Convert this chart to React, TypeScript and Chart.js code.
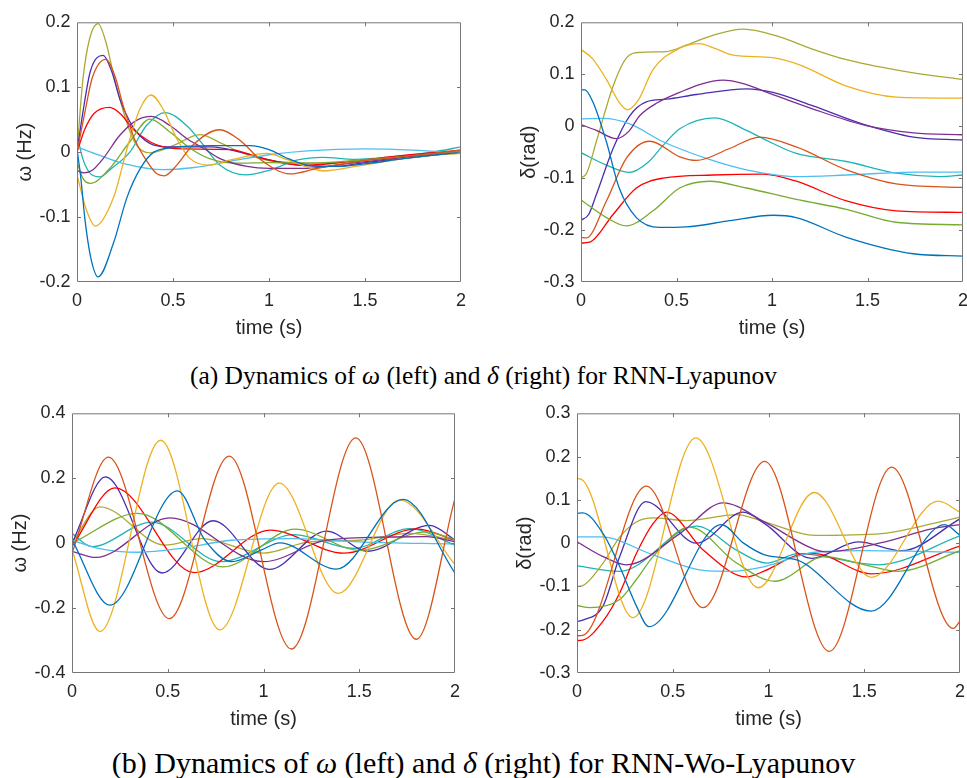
import React, { useEffect, useRef } from 'react';
import { Chart, registerables } from 'chart.js';

Chart.register(...registerables);

type Pt = [number, number];

// ---------------- axis ticks ----------------
const TIME_TICKS = [0, 0.5, 1, 1.5, 2];
const TIME_LABELS = ['0', '0.5', '1', '1.5', '2'];
const OMEGA_A_TICKS = [-0.2, -0.1, 0, 0.1, 0.2];
const OMEGA_A_LABELS = ['-0.2', '-0.1', '0', '0.1', '0.2'];
const DELTA_B_TICKS = [-0.3, -0.2, -0.1, 0, 0.1, 0.2];
const DELTA_B_LABELS = ['-0.3', '-0.2', '-0.1', '0', '0.1', '0.2'];
const OMEGA_C_TICKS = [-0.4, -0.2, 0, 0.2, 0.4];
const OMEGA_C_LABELS = ['-0.4', '-0.2', '0', '0.2', '0.4'];
const DELTA_D_TICKS = [-0.3, -0.2, -0.1, 0, 0.1, 0.2, 0.3];
const DELTA_D_LABELS = ['-0.3', '-0.2', '-0.1', '0', '0.1', '0.2', '0.3'];

// ---------------- colours ----------------
const BLUE = '#0072BD';
const ORANGE = '#D95319';
const YELLOW = '#EDB120';
const PURPLE = '#7E2F8E';
const GREEN = '#77AC30';
const LIGHTBLUE = '#4DBEEE';
const RED = '#FF0000';
const INDIGO = '#4A2DB0';
const OLIVE = '#AAAA33';
const TEAL = '#1FB4B4';

// ---------------- (a) left: omega, RNN-Lyapunov ----------------
const A_blue: Pt[] = [[0, 0.005], [0.02, -0.04], [0.04, -0.1], [0.07, -0.16], [0.11, -0.192], [0.19, -0.14], [0.26, -0.07], [0.33, -0.025], [0.4, 0.0], [0.5, 0.007], [0.7, 0.01], [0.9, 0.01], [1.0, 0.004], [1.1, -0.01], [1.2, -0.02], [1.35, -0.022], [1.5, -0.018], [1.7, -0.01], [2, 0.0]];
const A_olive: Pt[] = [[0, 0.0], [0.03, 0.11], [0.066, 0.175], [0.11, 0.198], [0.15, 0.17], [0.19, 0.12], [0.26, 0.045], [0.31, 0.011], [0.38, -0.001], [0.5, 0.01], [0.64, 0.027], [0.75, 0.014], [0.85, 0.0], [1.02, -0.014], [1.3, -0.017], [1.5, -0.012], [1.7, -0.007], [2, -0.002]];
const A_indigo: Pt[] = [[0, 0.0], [0.03, 0.06], [0.07, 0.125], [0.136, 0.149], [0.18, 0.125], [0.223, 0.082], [0.27, 0.05], [0.31, 0.031], [0.4, 0.011], [0.5, 0.008], [0.7, 0.008], [0.85, 0.0], [1.0, -0.012], [1.15, -0.02], [1.35, -0.022], [1.5, -0.016], [1.75, -0.008], [2, 0.0]];
const A_orange: Pt[] = [[0, 0.0], [0.04, 0.06], [0.08, 0.115], [0.15, 0.143], [0.2, 0.115], [0.24, 0.072], [0.3, 0.02], [0.36, -0.012], [0.414, -0.033], [0.454, -0.0365], [0.52, -0.02], [0.6, 0.01], [0.742, 0.0345], [0.85, 0.018], [0.95, -0.01], [1.11, -0.0335], [1.25, -0.025], [1.45, -0.015], [1.7, -0.007], [2, 0.003]];
const A_red: Pt[] = [[0, 0.0], [0.04, 0.035], [0.09, 0.06], [0.17, 0.069], [0.23, 0.058], [0.29, 0.036], [0.38, 0.016], [0.45, 0.008], [0.55, 0.005], [0.8, 0.004], [0.95, -0.008], [1.1, -0.018], [1.2, -0.02], [1.4, -0.015], [1.7, -0.005], [2, 0.003]];
const A_yellow: Pt[] = [[0, -0.035], [0.05, -0.09], [0.095, -0.114], [0.19, -0.07], [0.266, 0.011], [0.327, 0.066], [0.385, 0.088], [0.449, 0.066], [0.519, 0.021], [0.589, -0.01], [0.69, -0.02], [0.8, -0.012], [0.99, -0.002], [1.1, -0.012], [1.285, -0.029], [1.45, -0.022], [1.7, -0.01], [2, 0.0]];
const A_purple: Pt[] = [[0, -0.028], [0.035, -0.032], [0.08, -0.028], [0.136, -0.01], [0.223, 0.026], [0.31, 0.049], [0.388, 0.055], [0.484, 0.041], [0.571, 0.021], [0.658, 0.006], [0.745, -0.01], [0.885, -0.022], [1.0, -0.025], [1.2, -0.025], [1.4, -0.018], [1.7, -0.008], [2, 0.0]];
const A_green: Pt[] = [[0, -0.015], [0.03, -0.04], [0.07, -0.048], [0.17, -0.025], [0.275, 0.016], [0.38, 0.051], [0.484, 0.031], [0.589, 0.006], [0.69, -0.01], [0.83, -0.017], [1.0, -0.016], [1.2, -0.017], [1.4, -0.014], [1.7, -0.007], [2, 0.002]];
const A_teal: Pt[] = [[0, 0.028], [0.03, -0.01], [0.07, -0.033], [0.118, -0.038], [0.18, -0.025], [0.275, 0.0], [0.362, 0.041], [0.458, 0.061], [0.571, 0.041], [0.658, 0.011], [0.745, -0.02], [0.88, -0.035], [1.0, -0.028], [1.15, -0.012], [1.28, -0.008], [1.45, -0.011], [1.65, -0.007], [1.85, 0.0], [2, 0.008]];
const A_lightblue: Pt[] = [[0, 0.008], [0.1, -0.003], [0.25, -0.018], [0.45, -0.027], [0.6, -0.024], [0.8, -0.014], [1.0, -0.004], [1.2, 0.002], [1.5, 0.005], [1.75, 0.003], [2, -0.002]];

// ---------------- (a) right: delta, RNN-Lyapunov ----------------
const B_olive: Pt[] = [[0, -0.1], [0.03, -0.09], [0.08, -0.03], [0.168, 0.077], [0.237, 0.131], [0.307, 0.142], [0.447, 0.1437], [0.55, 0.156], [0.69, 0.175], [0.85, 0.187], [1.04, 0.172], [1.2, 0.15], [1.39, 0.128], [1.74, 0.1025], [2, 0.09]];
const B_yellow: Pt[] = [[0, 0.148], [0.06, 0.13], [0.133, 0.09], [0.2, 0.046], [0.243, 0.0316], [0.3, 0.05], [0.377, 0.109], [0.517, 0.15], [0.62, 0.159], [0.7, 0.15], [0.796, 0.137], [1.005, 0.132], [1.145, 0.118], [1.39, 0.077], [1.65, 0.056], [2, 0.054]];
const B_purple: Pt[] = [[0, 0.003], [0.08, -0.008], [0.185, -0.024], [0.25, -0.01], [0.307, 0.02], [0.4, 0.045], [0.517, 0.065], [0.62, 0.08], [0.743, 0.0886], [0.85, 0.082], [0.953, 0.068], [1.215, 0.033], [1.494, 0.001], [1.74, -0.0127], [2, -0.0165]];
const B_indigo: Pt[] = [[0, -0.181], [0.04, -0.17], [0.08, -0.132], [0.168, -0.043], [0.255, 0.02], [0.342, 0.047], [0.447, 0.052], [0.604, 0.061], [0.866, 0.072], [1.005, 0.065], [1.215, 0.039], [1.476, 0.004], [1.74, -0.021], [2, -0.0266]];
const B_blue: Pt[] = [[0, 0.0696], [0.02, 0.07], [0.063, 0.046], [0.133, -0.03], [0.2, -0.119], [0.29, -0.176], [0.41, -0.195], [0.55, -0.194], [0.778, -0.182], [1.005, -0.1715], [1.127, -0.176], [1.39, -0.214], [1.74, -0.2456], [2, -0.25]];
const B_lightblue: Pt[] = [[0, 0.014], [0.115, 0.015], [0.255, 0.0044], [0.43, -0.03], [0.656, -0.062], [0.866, -0.084], [1.127, -0.097], [1.39, -0.094], [1.74, -0.0886], [2, -0.0886]];
const B_teal: Pt[] = [[0, -0.051], [0.133, -0.075], [0.255, -0.089], [0.35, -0.07], [0.43, -0.037], [0.517, -0.005], [0.7, 0.016], [0.866, -0.008], [0.953, -0.024], [1.127, -0.0525], [1.39, -0.068], [1.65, -0.0905], [1.878, -0.097], [2, -0.094]];
const B_orange: Pt[] = [[0, -0.214], [0.028, -0.215], [0.133, -0.144], [0.237, -0.062], [0.36, -0.029], [0.517, -0.059], [0.604, -0.066], [0.778, -0.043], [0.935, -0.021], [1.127, -0.04], [1.39, -0.084], [1.65, -0.111], [2, -0.118]];
const B_red: Pt[] = [[0, -0.225], [0.045, -0.2234], [0.168, -0.17], [0.29, -0.119], [0.43, -0.1], [0.69, -0.094], [0.953, -0.0924], [1.127, -0.106], [1.39, -0.144], [1.65, -0.163], [2, -0.166]];
const B_green: Pt[] = [[0, -0.142], [0.133, -0.176], [0.237, -0.192], [0.377, -0.163], [0.517, -0.119], [0.674, -0.106], [0.866, -0.119], [1.127, -0.141], [1.39, -0.16], [1.65, -0.185], [2, -0.19]];

// ---------------- (b) left: omega, RNN-Wo-Lyapunov ----------------
const C_orange: Pt[] = [[0, -0.03], [0.19, 0.265], [0.508, -0.2325], [0.821, 0.268], [1.146, -0.326], [1.482, 0.324], [1.798, -0.296], [2, 0.138]];
const C_yellow: Pt[] = [[0, -0.02], [0.146, -0.272], [0.463, 0.317], [0.772, -0.267], [1.082, 0.185], [1.39, -0.155], [1.711, 0.133], [2, -0.066]];
const C_blue: Pt[] = [[0, 0.01], [0.198, -0.191], [0.551, 0.161], [0.694, 0.009], [0.833, -0.057], [0.99, -0.021], [1.085, 0.001], [1.38, -0.08], [1.729, 0.135], [2, -0.092]];
const C_indigo: Pt[] = [[0, 0.0], [0.175, 0.204], [0.47, -0.092], [0.737, 0.069], [1.03, -0.081], [1.329, 0.037], [1.545, -0.025], [1.868, 0.055], [2, 0.01]];
const C_red: Pt[] = [[0, -0.01], [0.224, 0.17], [0.638, -0.091], [1.035, 0.04], [1.42, -0.031], [1.8, 0.044], [2, 0.009]];
const C_olive: Pt[] = [[0, 0.0], [0.146, 0.112], [0.485, -0.006], [0.677, 0.014], [1.0, -0.031], [1.24, 0.004], [1.5, 0.009], [1.763, 0.03], [2, 0.009]];
const C_green: Pt[] = [[0, 0.0], [0.343, 0.092], [0.79, -0.073], [1.165, 0.043], [1.503, -0.022], [1.85, 0.035], [2, 0.01]];
const C_teal: Pt[] = [[0, 0.03], [0.103, -0.011], [0.416, 0.065], [0.781, -0.057], [1.16, 0.026], [1.47, -0.016], [1.763, 0.045], [2, -0.006]];
const C_purple: Pt[] = [[0, -0.025], [0.125, -0.044], [0.511, 0.078], [1.0, -0.057], [1.329, 0.009], [1.677, 0.019], [1.85, 0.02], [2, 0.004]];
const C_lightblue: Pt[] = [[0, 0.009], [0.137, -0.016], [0.346, -0.028], [0.572, -0.016], [0.833, 0.009], [1.155, 0.014], [1.5, 0.004], [2, -0.003]];

// ---------------- (b) right: delta, RNN-Wo-Lyapunov ----------------
const D_orange: Pt[] = [[0, -0.214], [0.03, -0.213], [0.362, 0.1316], [0.659, -0.149], [0.98, 0.189], [1.317, -0.25], [1.643, 0.1757], [1.965, -0.197], [2, -0.18]];
const D_yellow: Pt[] = [[0, 0.149], [0.02, 0.148], [0.293, -0.172], [0.62, 0.243], [0.946, -0.103], [1.239, 0.117], [1.538, -0.079], [1.887, 0.097], [2, 0.0715]];
const D_blue: Pt[] = [[0, 0.069], [0.03, 0.07], [0.136, 0.022], [0.223, -0.054], [0.31, -0.145], [0.375, -0.193], [0.754, 0.043], [0.87, 0.0], [0.98, -0.027], [1.155, -0.04], [1.535, -0.157], [1.92, 0.043], [2, 0.018]];
const D_indigo: Pt[] = [[0, -0.181], [0.03, -0.178], [0.136, -0.145], [0.223, -0.031], [0.359, 0.096], [0.624, 0.0], [0.868, 0.0715], [0.98, 0.045], [1.225, -0.035], [1.469, 0.003], [1.695, -0.0175], [2, 0.056]];
const D_purple: Pt[] = [[0, 0.003], [0.136, -0.031], [0.258, -0.05], [0.537, 0.022], [0.763, 0.093], [0.98, 0.049], [1.207, -0.008], [1.294, -0.02], [1.59, 0.001], [1.852, 0.033], [2, 0.043]];
const D_olive: Pt[] = [[0, -0.1], [0.03, -0.098], [0.136, -0.046], [0.223, 0.014], [0.31, 0.049], [0.397, 0.0585], [0.571, 0.052], [0.833, 0.066], [0.98, 0.049], [1.242, 0.018], [1.59, 0.022], [1.767, 0.036], [2, 0.06]];
const D_teal: Pt[] = [[0, -0.0525], [0.223, -0.065], [0.624, 0.0395], [0.833, -0.016], [0.99, -0.046], [1.155, -0.024], [1.573, -0.05], [2, 0.017]];
const D_lightblue: Pt[] = [[0, 0.0145], [0.125, 0.0145], [0.397, -0.027], [0.659, -0.063], [0.8, -0.065], [0.98, -0.054], [1.242, -0.021], [1.503, -0.0175], [2, -0.021]];
const D_red: Pt[] = [[0, -0.225], [0.03, -0.224], [0.136, -0.18], [0.223, -0.115], [0.31, -0.024], [0.397, 0.045], [0.467, 0.0715], [0.659, -0.016], [0.885, -0.078], [0.98, -0.064], [1.155, -0.027], [1.24, -0.024], [1.538, -0.071], [2, -0.007]];
const D_green: Pt[] = [[0, -0.144], [0.066, -0.149], [0.223, -0.13], [0.31, -0.084], [0.397, -0.031], [0.589, 0.037], [0.833, -0.046], [1.033, -0.088], [1.294, -0.031], [1.503, -0.05], [1.678, -0.065], [2, -0.0175]];

// ---------------- series lists ----------------
type Series = { color: string; data: Pt[] };
const A_SERIES: Series[] = [
  { color: BLUE, data: A_blue }, { color: ORANGE, data: A_orange }, { color: YELLOW, data: A_yellow },
  { color: PURPLE, data: A_purple }, { color: GREEN, data: A_green }, { color: LIGHTBLUE, data: A_lightblue },
  { color: RED, data: A_red }, { color: INDIGO, data: A_indigo }, { color: OLIVE, data: A_olive }, { color: TEAL, data: A_teal },
];
const B_SERIES: Series[] = [
  { color: BLUE, data: B_blue }, { color: ORANGE, data: B_orange }, { color: YELLOW, data: B_yellow },
  { color: PURPLE, data: B_purple }, { color: GREEN, data: B_green }, { color: LIGHTBLUE, data: B_lightblue },
  { color: RED, data: B_red }, { color: INDIGO, data: B_indigo }, { color: OLIVE, data: B_olive }, { color: TEAL, data: B_teal },
];
const C_SERIES: Series[] = [
  { color: BLUE, data: C_blue }, { color: ORANGE, data: C_orange }, { color: YELLOW, data: C_yellow },
  { color: PURPLE, data: C_purple }, { color: GREEN, data: C_green }, { color: LIGHTBLUE, data: C_lightblue },
  { color: RED, data: C_red }, { color: INDIGO, data: C_indigo }, { color: OLIVE, data: C_olive }, { color: TEAL, data: C_teal },
];
const D_SERIES: Series[] = [
  { color: BLUE, data: D_blue }, { color: ORANGE, data: D_orange }, { color: YELLOW, data: D_yellow },
  { color: PURPLE, data: D_purple }, { color: GREEN, data: D_green }, { color: LIGHTBLUE, data: D_lightblue },
  { color: RED, data: D_red }, { color: INDIGO, data: D_indigo }, { color: OLIVE, data: D_olive }, { color: TEAL, data: D_teal },
];

// ---------------- layout / style ----------------
const Y_AXIS_W = 77;
const X_AXIS_H = 62;
const PAD_TOP = 14;
const PAD_RIGHT = 14;
const FRAME_COLOR = '#767676';
const TEXT_COLOR = '#262626';
const SANS = '"Liberation Sans", Arial, Helvetica, sans-serif';
const SERIF = '"Liberation Serif", "Times New Roman", Times, serif';
const TICK_FONT = 18;
const TITLE_FONT = 20;
const TICK_LEN = 4;

const framePlugin = {
  id: 'matlabFrame',
  afterDraw(chart: any) {
    const { ctx, chartArea } = chart;
    const { left, right, top, bottom } = chartArea;
    const xs = chart.scales.x;
    const ys = chart.scales.y;
    ctx.save();
    ctx.strokeStyle = FRAME_COLOR;
    ctx.lineWidth = 1;
    ctx.beginPath();
    ctx.rect(left + 0.5, top + 0.5, right - left - 1, bottom - top - 1);
    for (const t of xs.ticks) {
      const px = Math.round(xs.getPixelForValue(t.value)) + 0.5;
      if (px <= left + 2 || px >= right - 2) continue;
      ctx.moveTo(px, bottom); ctx.lineTo(px, bottom - TICK_LEN);
      ctx.moveTo(px, top); ctx.lineTo(px, top + TICK_LEN);
    }
    for (const t of ys.ticks) {
      const py = Math.round(ys.getPixelForValue(t.value)) + 0.5;
      if (py <= top + 2 || py >= bottom - 2) continue;
      ctx.moveTo(left, py); ctx.lineTo(left + TICK_LEN, py);
      ctx.moveTo(right, py); ctx.lineTo(right - TICK_LEN, py);
    }
    ctx.stroke();
    ctx.restore();
  },
};

type Area = { left: number; top: number; right: number; bottom: number };

function Panel(props: {
  area: Area; yMin: number; yMax: number; yTicks: number[]; yLabels: string[]; yTitle: string; series: Series[];
}) {
  const { area, yMin, yMax, yTicks, yLabels, yTitle, series } = props;
  const ref = useRef<HTMLCanvasElement | null>(null);
  const W = area.right - area.left + Y_AXIS_W + PAD_RIGHT;
  const H = area.bottom - area.top + PAD_TOP + X_AXIS_H;

  useEffect(() => {
    if (!ref.current) return;
    const chart = new Chart(ref.current, {
      type: 'line',
      data: {
        datasets: series.map((s) => ({
          data: s.data.map((p) => ({ x: p[0], y: p[1] })),
          borderColor: s.color,
          backgroundColor: s.color,
          borderWidth: 1.3,
          pointRadius: 0,
          fill: false,
          cubicInterpolationMode: 'monotone' as const,
        })),
      },
      options: {
        animation: false,
        responsive: false,
        devicePixelRatio: 1,
        layout: { padding: { top: PAD_TOP, right: PAD_RIGHT, left: 0, bottom: 0 } },
        plugins: { legend: { display: false }, tooltip: { enabled: false } },
        events: [],
        scales: {
          x: {
            type: 'linear',
            min: 0,
            max: 2,
            afterBuildTicks: (s: any) => { s.ticks = TIME_TICKS.map((v) => ({ value: v })); },
            afterFit: (s: any) => { s.height = X_AXIS_H; },
            grid: { display: false, drawTicks: false },
            border: { display: false },
            ticks: {
              autoSkip: false, maxRotation: 0, minRotation: 0, padding: 8.5, color: TEXT_COLOR,
              font: { family: SANS, size: TICK_FONT },
              callback: (_v: any, i: number) => TIME_LABELS[i],
            },
            title: {
              display: true, text: 'time (s)', color: TEXT_COLOR,
              font: { family: SANS, size: TITLE_FONT }, padding: { top: 0, bottom: 4 },
            },
          },
          y: {
            type: 'linear',
            min: yMin,
            max: yMax,
            afterBuildTicks: (s: any) => { s.ticks = yTicks.map((v) => ({ value: v })); },
            afterFit: (s: any) => { s.width = Y_AXIS_W; },
            grid: { display: false, drawTicks: false },
            border: { display: false },
            ticks: {
              autoSkip: false, padding: 6.5, color: TEXT_COLOR,
              font: { family: SANS, size: TICK_FONT },
              callback: (_v: any, i: number) => yLabels[i],
            },
            title: {
              display: true, text: yTitle, color: TEXT_COLOR,
              font: { family: SANS, size: TITLE_FONT }, padding: { top: 13.5, bottom: 0 },
            },
          },
        },
      },
      plugins: [framePlugin],
    } as any);
    return () => chart.destroy();
  }, []);

  return (
    <canvas
      ref={ref}
      width={W}
      height={H}
      style={{ position: 'absolute', left: area.left - Y_AXIS_W, top: area.top - PAD_TOP, width: W, height: H }}
    />
  );
}

const AREA_A: Area = { left: 77, top: 19, right: 461, bottom: 282 };
const AREA_B: Area = { left: 581, top: 19, right: 963, bottom: 282 };
const AREA_C: Area = { left: 72, top: 410, right: 455, bottom: 673 };
const AREA_D: Area = { left: 577, top: 410, right: 960, bottom: 673 };

function Caption(props: { y: number; size: number; children: React.ReactNode }) {
  const h = Math.round(props.size * 1.3);
  return (
    <div
      style={{
        position: 'absolute', left: 0, width: 967, top: props.y - h / 2, height: h, lineHeight: h + 'px',
        textAlign: 'center', fontFamily: SERIF, fontSize: props.size, color: '#000', whiteSpace: 'nowrap',
      }}
    >
      {props.children}
    </div>
  );
}

export default function App() {
  return (
    <div style={{ position: 'absolute', left: 0, top: 0, width: 967, height: 778, overflow: 'hidden', background: '#fff' }}>
      <Panel area={AREA_A} yMin={-0.2} yMax={0.2} yTicks={OMEGA_A_TICKS} yLabels={OMEGA_A_LABELS} yTitle="ω (Hz)" series={A_SERIES} />
      <Panel area={AREA_B} yMin={-0.3} yMax={0.2} yTicks={DELTA_B_TICKS} yLabels={DELTA_B_LABELS} yTitle="δ(rad)" series={B_SERIES} />
      <Panel area={AREA_C} yMin={-0.4} yMax={0.4} yTicks={OMEGA_C_TICKS} yLabels={OMEGA_C_LABELS} yTitle="ω (Hz)" series={C_SERIES} />
      <Panel area={AREA_D} yMin={-0.3} yMax={0.3} yTicks={DELTA_D_TICKS} yLabels={DELTA_D_LABELS} yTitle="δ(rad)" series={D_SERIES} />
      <Caption y={375} size={25.5}>
        (a) Dynamics of <i>ω</i> (left) and <i>δ</i> (right) for RNN-Lyapunov
      </Caption>
      <Caption y={762} size={30}>
        (b) Dynamics of <i>ω</i> (left) and <i>δ</i> (right) for RNN-Wo-Lyapunov
      </Caption>
    </div>
  );
}
